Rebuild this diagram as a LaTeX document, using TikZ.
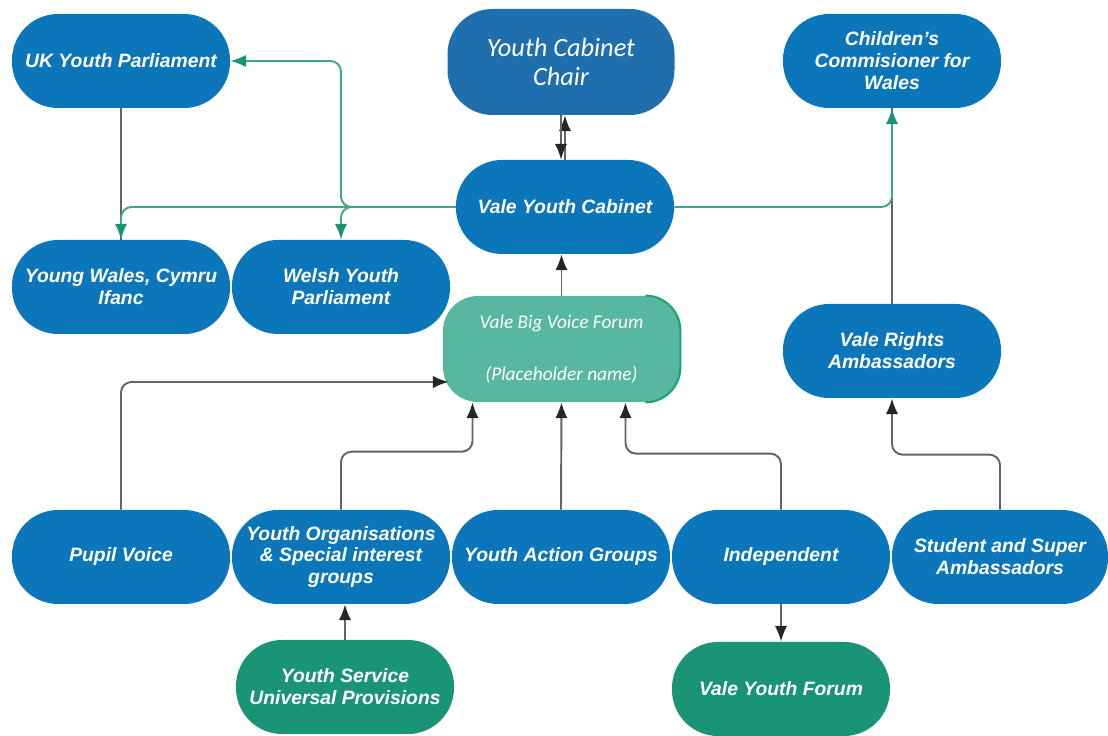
\documentclass[tikz,border=0pt]{standalone}
\usepackage{fontspec}
\setmainfont{Liberation Sans}
\newfontfamily\calibrifont{Carlito}
\usetikzlibrary{arrows.meta}

\definecolor{boxblue}{HTML}{0C76BB}
\definecolor{chairblue}{HTML}{1F6EAE}
\definecolor{boxgreen}{HTML}{1A9477}
\definecolor{forumgreen}{HTML}{57B89F}
\definecolor{forumedge}{HTML}{1FA37C}
\definecolor{linegreen}{HTML}{3DA983}
\definecolor{linegray}{HTML}{646464}
\definecolor{tipdark}{HTML}{262626}

\tikzset{
  pill/.style={fill=boxblue, text=white, rounded corners=0.92cm, minimum width=4.36cm,
    minimum height=1.88cm, inner sep=0pt, align=center,
    font=\fontsize{11}{12.5}\selectfont\bfseries\itshape},
  pillgreen/.style={pill, fill=boxgreen},
  chairbox/.style={fill=chairblue, text=white, rounded corners=0.9cm, minimum width=4.54cm,
    minimum height=2.12cm, inner sep=0pt, align=center,
    font=\calibrifont\fontsize{15}{16.5}\selectfont\itshape},
  forumbox/.style={fill=forumgreen, text=white, rounded corners=0.7cm, minimum width=4.74cm,
    minimum height=2.12cm, inner sep=0pt, align=center,
    font=\calibrifont\fontsize{11}{13}\selectfont\itshape},
  kline/.style={linegray, line width=1.1pt, rounded corners=6pt},
  karrow/.style={kline, -{Latex[length=9pt,width=7pt,color=tipdark]}},
  gline/.style={linegreen, line width=1.1pt, rounded corners=6pt},
  garrow/.style={gline, -{Latex[length=9pt,width=7pt,color=boxgreen]}},
}

\begin{document}
\begin{tikzpicture}
\useasboundingbox (0,0) rectangle (22.16,14.72);

\node[pill] (ukyp) at (2.42,13.5) {UK Youth Parliament};
\node[chairbox] (chair) at (11.22,13.48) {Youth Cabinet\\Chair};
\node[pill] (comm) at (17.84,13.5) {Children's\\Commisioner for\\Wales};
\node[pill] (cabinet) at (11.3,10.58) {Vale Youth Cabinet};
\node[pill] (ywales) at (2.42,8.98) {Young Wales, Cymru\\Ifanc};
\node[pill] (wyp) at (6.82,8.98) {Welsh Youth\\Parliament};
\node[forumbox] (forum) at (11.23,7.74) {Vale Big Voice Forum\\[17pt](Placeholder name)};
\draw[forumedge, line width=1.2pt] ([xshift=-0.7cm]forum.north east)
  arc[start angle=90, end angle=0, radius=0.7cm] -- ([yshift=0.7cm]forum.south east)
  arc[start angle=0, end angle=-90, radius=0.7cm];
\node[pill] (rights) at (17.84,7.7) {Vale Rights\\Ambassadors};
\node[pill] (pupil) at (2.42,3.58) {Pupil Voice};
\node[pill] (yorgs) at (6.82,3.58) {Youth Organisations\\\& Special interest\\groups};
\node[pill] (action) at (11.22,3.58) {Youth Action Groups};
\node[pill] (indep) at (15.62,3.58) {Independent};
\node[pill, minimum width=4.32cm] (student) at (20.0,3.58) {Student and Super\\Ambassadors};
\node[pillgreen] (service) at (6.9,0.98) {Youth Service\\Universal Provisions};
\node[pillgreen] (vyf) at (15.62,0.94) {Vale Youth Forum};

\draw[kline] (ukyp.south) -- (ywales.north);
\draw[kline] (rights.north) -- (comm.south);
\draw[garrow] (cabinet.west) -| (ywales.north);
\draw[garrow] (cabinet.west) -| (wyp.north);
\draw[garrow] (cabinet.west) -- (cabinet.west -| wyp.north) |- (ukyp.east);
\draw[garrow] (cabinet.east) -| (comm.south);

\draw[karrow] (cabinet.north) -- (cabinet.north |- chair.south);
\draw[karrow] (chair.south) -- (chair.south |- cabinet.north);
\draw[karrow] (forum.north) -- (forum.north |- cabinet.south);

\draw[karrow] (pupil.north) |- ([xshift=0.12cm,yshift=-0.66cm]forum.west);
\draw[karrow] (yorgs.north) -- ++(0,1.16) -| ([xshift=-1.78cm]forum.south);
\draw[karrow] (action.north) -- (forum.south);
\draw[karrow] (indep.north) -- ++(0,1.12) -| ([xshift=1.28cm]forum.south);
\draw[karrow] (indep.south) -- (vyf.north);
\draw[karrow] (service.north) -- (service.north |- yorgs.south);
\draw[karrow] (student.north) -- ++(0,1.1) -| (rights.south);
\end{tikzpicture}
\end{document}
